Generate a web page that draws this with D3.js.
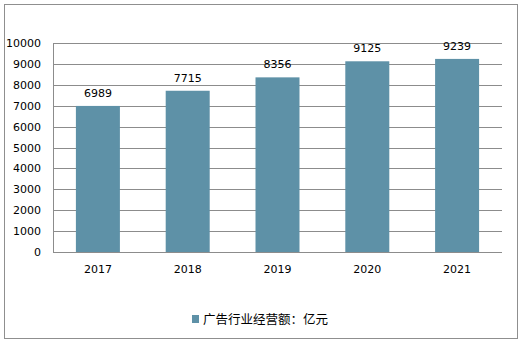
<!DOCTYPE html>
<html>
<head>
<meta charset="utf-8">
<script src="https://cdn.jsdelivr.net/npm/d3@7"></script>
<style>
  body { margin: 0; background: #fff; }
  svg text { font-family: "DejaVu Sans", sans-serif; font-size: 11px; fill: #000; }
</style>
</head>
<body>
<div id="chart"></div>
<script>
// chart data
var years = ["2017", "2018", "2019", "2020", "2021"];
var revenue = [6989, 7715, 8356, 9125, 9239];
var yTicks = [0, 1000, 2000, 3000, 4000, 5000, 6000, 7000, 8000, 9000, 10000];
var seriesName = "广告行业经营额：亿元";

var W = 526, H = 342;
var margin = { top: 43, right: 24, bottom: 90, left: 53 },
    width = W - margin.left - margin.right,
    height = H - margin.top - margin.bottom;

var root = d3.select("#chart").append("svg")
    .attr("width", W)
    .attr("height", H);

// outer frame
root.append("rect")
    .attr("x", 4.5).attr("y", 4.5)
    .attr("width", 513).attr("height", 334)
    .attr("fill", "none")
    .attr("stroke", "#8f8f8f");

var svg = root.append("g")
    .attr("transform", "translate(" + margin.left + "," + margin.top + ")");

var x = d3.scaleBand()
    .domain(years)
    .range([0, width])
    .paddingInner(0.51)
    .paddingOuter(0.255);

var y = d3.scaleLinear()
    .domain([0, 10000])
    .range([height, 0]);

// gridlines
svg.append("g")
    .selectAll("line")
    .data(yTicks)
    .enter().append("line")
    .attr("x1", 0).attr("x2", width)
    .attr("y1", function (d) { return Math.round(y(d)) + 0.5; })
    .attr("y2", function (d) { return Math.round(y(d)) + 0.5; })
    .attr("stroke", "#8c8c8c");

// left edge of plot
svg.append("line")
    .attr("x1", 0.5).attr("x2", 0.5)
    .attr("y1", 0).attr("y2", height)
    .attr("stroke", "#8c8c8c");

// y labels
var yAxis = svg.append("g")
    .call(d3.axisLeft(y).tickValues(yTicks).tickFormat(d3.format("d")).tickSize(0).tickPadding(12));
yAxis.select(".domain").remove();
yAxis.selectAll("text").style("font-size", "11px").attr("fill", "#000");

// x labels
var xAxis = svg.append("g")
    .attr("transform", "translate(0," + height + ")")
    .call(d3.axisBottom(x).tickSize(0).tickPadding(13));
xAxis.select(".domain").remove();
xAxis.selectAll("text").style("font-size", "11px").attr("fill", "#000");

// bars
svg.selectAll(".bar")
    .data(revenue)
    .enter().append("rect")
    .attr("class", "bar")
    .attr("x", function (d, i) { return x(years[i]); })
    .attr("width", x.bandwidth())
    .attr("y", function (d) { return y(d); })
    .attr("height", function (d) { return height - y(d); })
    .attr("fill", "#5e91a7");

// value labels
svg.selectAll(".val")
    .data(revenue)
    .enter().append("text")
    .attr("class", "val")
    .attr("x", function (d, i) { return x(years[i]) + x.bandwidth() / 2; })
    .attr("y", function (d) { return y(d) - 9; })
    .attr("text-anchor", "middle")
    .text(function (d) { return d; });

// legend
var legend = root.append("g").attr("transform", "translate(192,315)");
legend.append("rect")
    .attr("width", 7).attr("height", 8)
    .attr("fill", "#5e91a7");
legend.append("text")
    .attr("x", 11).attr("y", 9)
    .style("font-family", "'Noto Sans CJK SC', sans-serif")
    .style("font-size", "12.5px")
    .text(seriesName);
</script>
</body>
</html>
